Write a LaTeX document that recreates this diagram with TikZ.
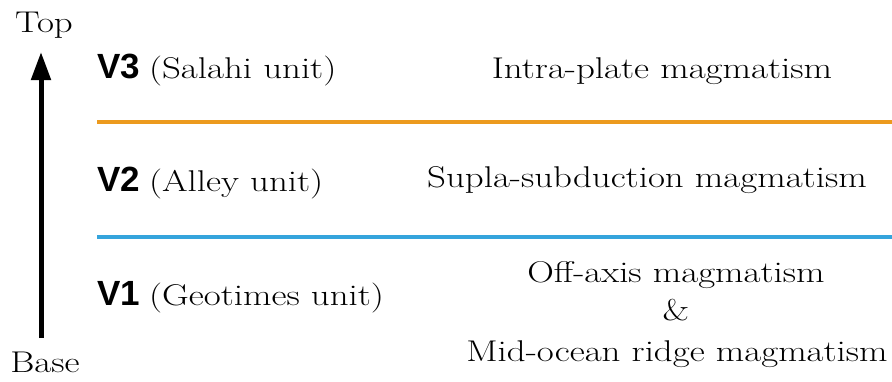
\documentclass[tikz,border=0pt]{standalone}
\usepackage{fontspec}
\usepackage{graphicx}
\usetikzlibrary{arrows.meta}
\newfontfamily\vlabfont{Liberation Sans}
\definecolor{lineorange}{HTML}{EC9A1E}
\definecolor{lineblue}{HTML}{35A4DC}
\newcommand\wtext[1]{\scalebox{1.23}[1]{#1}}
\newcommand\vlab[1]{{\vlabfont\bfseries\fontsize{35}{40}\selectfont #1}}
\tikzset{
  txt/.style={inner sep=0pt, font=\fontsize{30}{36}\selectfont},
  unitline/.style={line width=4pt},
  axisarrow/.style={line width=5pt, -{Triangle[length=28pt,width=19pt]}}
}
\begin{document}
\begin{tikzpicture}[x=1pt,y=-1pt]
\useasboundingbox (0,0) rectangle (892,381);
% axis
\node[txt, anchor=base] (top) at (44,32) {\wtext{Top}};
\node[txt, anchor=base] (base) at (45,372) {\wtext{Base}};
\coordinate (abot) at (41,338);
\coordinate (atop) at (41,52);
\draw[axisarrow] (abot) -- (atop);
% boundary lines
\coordinate (o1) at (97,122);
\coordinate (o2) at (892,122);
\coordinate (b1) at (97,237);
\coordinate (b2) at (892,237);
\draw[unitline, lineorange] (o1) -- (o2);
\draw[unitline, lineblue] (b1) -- (b2);
% unit labels
\node[txt, anchor=base west] (v3) at (97,78) {\vlab{V3} \wtext{(Salahi unit)}};
\node[txt, anchor=base west] (v2) at (97,191) {\vlab{V2} \wtext{(Alley unit)}};
\node[txt, anchor=base west] (v1) at (97,305) {\vlab{V1} \wtext{(Geotimes unit)}};
% magmatism labels
\node[txt, anchor=base] (m3) at (662,78) {\wtext{Intra-plate magmatism}};
\node[txt, anchor=base] (m2) at (647,187) {\wtext{Supla-subduction magmatism}};
\node[txt, anchor=base] (m1a) at (676,282) {\wtext{Off-axis magmatism}};
\node[txt, anchor=base] (m1b) at (676,320) {\wtext{\&}};
\node[txt, anchor=base] (m1c) at (677,361) {\wtext{Mid-ocean ridge magmatism}};
\end{tikzpicture}
\end{document}
